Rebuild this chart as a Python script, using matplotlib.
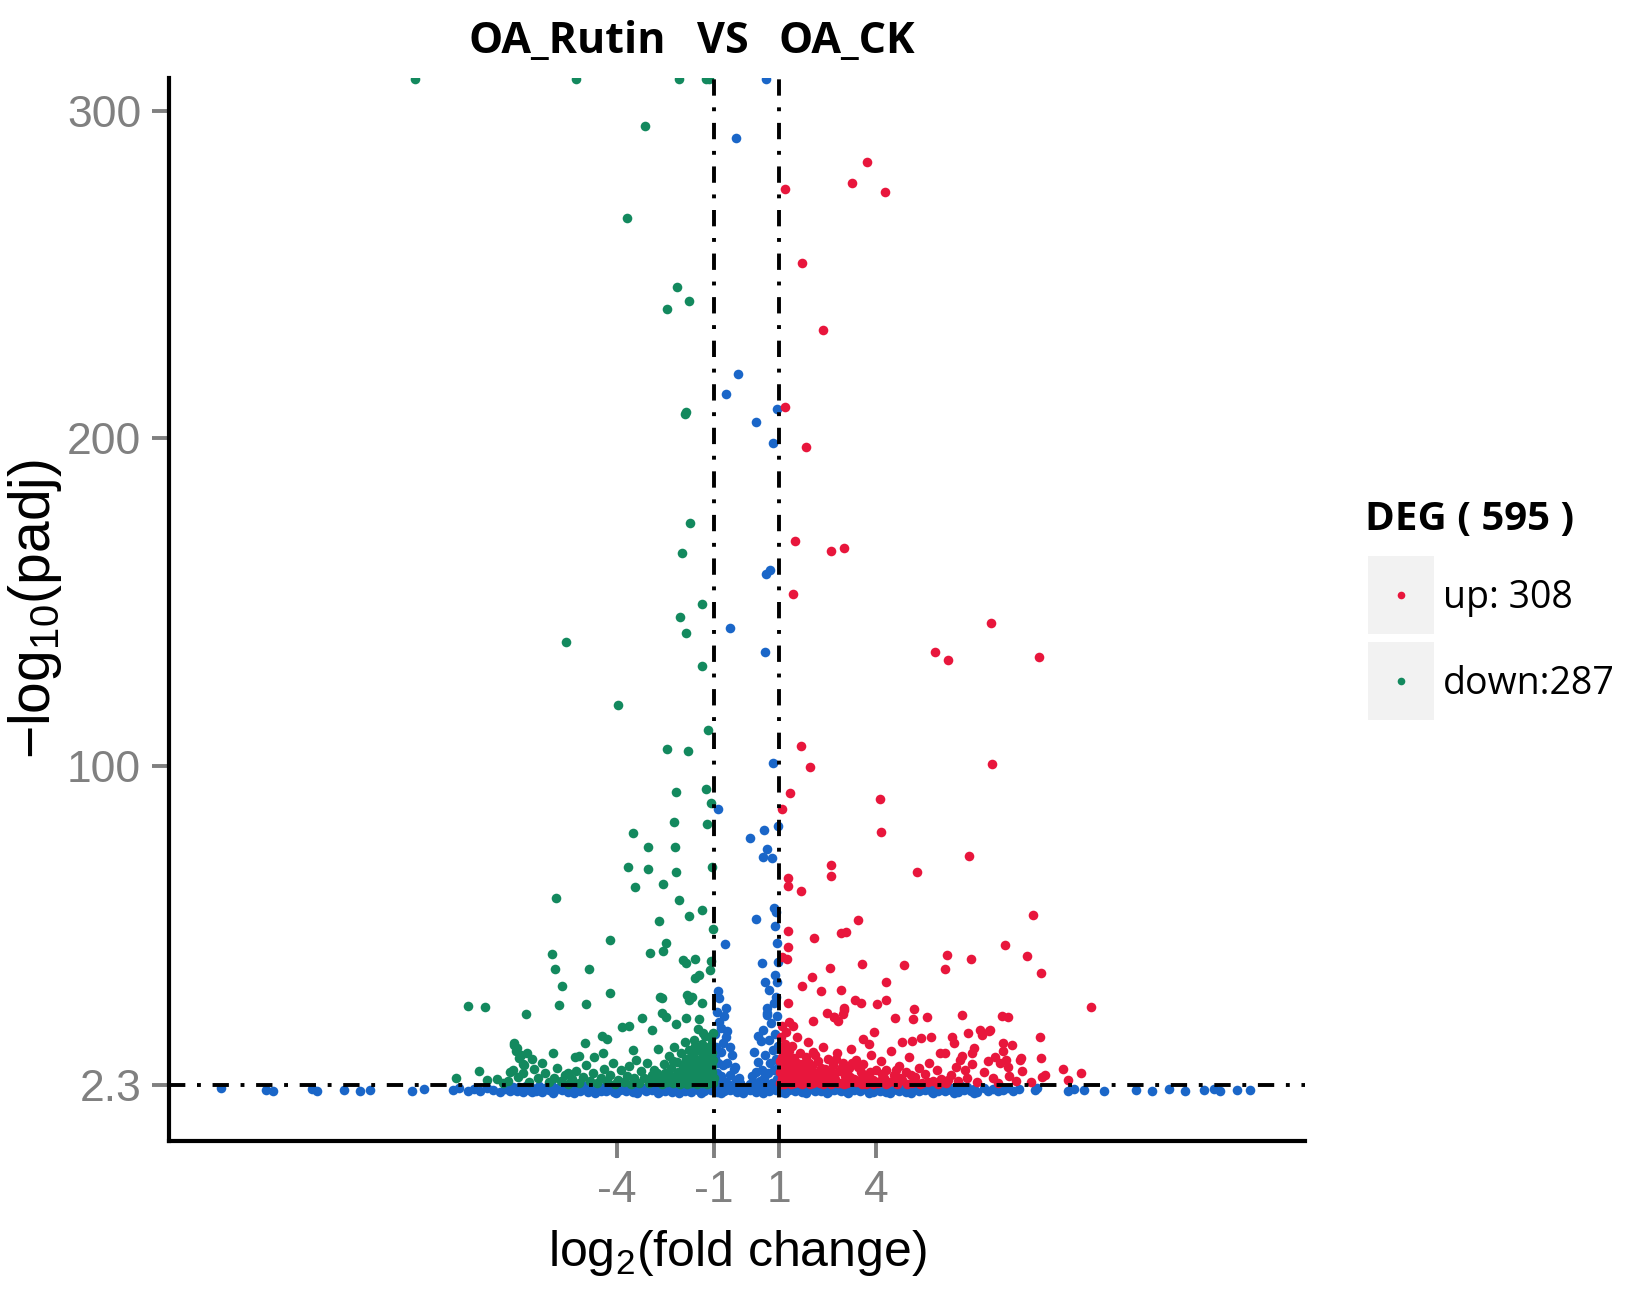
import matplotlib
matplotlib.use("Agg")
import matplotlib.pyplot as plt
from matplotlib.patches import Rectangle

plt.rcParams["font.family"] = ["Liberation Sans", "DejaVu Sans"]
plt.rcParams["mathtext.fontset"] = "custom"
plt.rcParams["mathtext.rm"] = "Liberation Sans"

# colours (ggplot volcano palette)
C_UP = "#e8163c"
C_DOWN = "#13895e"
C_NS = "#1a66c8"
C_TICK = "#808080"

# thresholds
FC_CUT = [-1, 1]
P_CUT = 2.3

# axis ticks
X_TICKS = [-4, -1, 1, 4]
Y_TICKS = [2.3, 100, 200, 300]
Y_TICKLABELS = ["2.3", "100", "200", "300"]

# legend counts
N_UP = 308
N_DOWN = 287

# ---- down-regulated genes (log2FC, -log10 padj) ----
down_pts = [
    (-10.22, 310), (-5.27, 310), (-2.07, 310), (-1.25, 310), (-1.15, 310),
    (-3.14, 295.4), (-3.70, 267.3), (-2.16, 246.3), (-1.76, 241.9), (-2.46, 239.5),
    (-1.91, 207.4), (-1.86, 208.0), (-1.74, 174.1), (-2.0, 164.9), (-1.36, 149.3),
    (-2.06, 145.5), (-5.58, 137.8), (-1.87, 140.4), (-1.39, 130.5), (-3.95, 118.4),
    (-1.2, 110.8), (-2.45, 105.1), (-1.81, 104.5),
    (-2.18, 91.9), (-1.24, 92.8), (-1.11, 88.5), (-2.25, 82.7), (-1.21, 82.1),
    (-3.51, 79.3), (-3.05, 75.1), (-2.22, 75.1), (-3.64, 68.9), (-3.05, 68.3),
    (-2.18, 67.4), (-1.08, 68.9), (-3.45, 62.8), (-2.58, 63.8), (-5.88, 59.4),
    (-2.09, 58.8), (-1.36, 55.7), (-1.76, 53.9), (-2.71, 52.6), (-1.05, 49.9),
    (-4.22, 46.8), (-2.49, 45.6), (-2.58, 43.4), (-2.98, 42.8), (-6.0, 42.5),
    (-1.95, 40.4), (-1.58, 40.7), (-1.11, 40.1), (-5.91, 37.7), (-4.87, 37.7),
    (-1.88, 39.5), (-1.48, 35.9), (-1.58, 34.9), (-1.14, 37.4), (-5.70, 32.5),
    (-4.22, 30.3), (-1.85, 29.8), (-1.67, 29.2), (-1.76, 28.3), (-1.39, 27.4),
    (-2.62, 28.9), (-8.59, 26.4), (-8.07, 26.1), (-5.79, 26.7), (-4.96, 27.0),
    (-6.80, 24.0), (-3.21, 22.8), (-2.47, 23.1), (-1.88, 22.8), (-1.48, 22.4),
    (-3.85, 20.0), (-3.61, 20.3), (-2.18, 20.9), (-4.47, 17.2), (-4.31, 16.3),
    (-4.99, 15.1), (-7.17, 15.1), (-7.09, 13.6), (-6.78, 12.0), (-5.98, 12.0),
    (-5.15, 11.1), (-4.44, 12.0), (-3.51, 12.9), (-8.96, 4.4), (-8.25, 6.6),
    (-8.0, 3.8), (-7.3, 6.3), (-6.9, 6.0), (-5.5, 6.0), (-5.3, 10.9),
    (-4.7, 10.9), (-2.68, 29.2), (-2.62, 24.3), (-2.9, 19.1), (-1.34, 18.2),
    (-7.17, 14.5), (-7.0, 10.6), (-6.88, 8.8),
    # dense low cloud near the cut-off
    (-1.03, 2.8), (-1.06, 6.2), (-1.04, 10.1), (-1.09, 14.5), (-1.05, 18.3),
    (-1.12, 4.1), (-1.08, 8.0), (-1.14, 12.2), (-1.1, 16.6), (-1.18, 3.3),
    (-1.16, 7.1), (-1.2, 11.0), (-1.22, 2.7), (-1.25, 5.4), (-1.24, 9.3),
    (-1.28, 13.8), (-1.3, 3.9), (-1.27, 17.2), (-1.33, 6.6), (-1.36, 2.9),
    (-1.35, 10.5), (-1.38, 15.0), (-1.4, 4.6), (-1.42, 8.4), (-1.45, 3.1),
    (-1.44, 12.6), (-1.47, 6.0), (-1.5, 19.4), (-1.52, 2.6), (-1.55, 4.9),
    (-1.54, 9.8), (-1.58, 14.1), (-1.6, 7.3), (-1.62, 3.5), (-1.65, 11.7),
    (-1.63, 16.0), (-1.68, 5.2), (-1.7, 2.8), (-1.73, 8.8), (-1.76, 13.0),
    (-1.78, 4.3), (-1.8, 6.9), (-1.83, 2.5), (-1.86, 10.2), (-1.88, 5.6),
    (-1.9, 15.5), (-1.93, 3.4), (-1.96, 7.8), (-2.0, 4.8), (-2.03, 12.0),
    (-2.06, 2.7), (-2.1, 6.3), (-2.13, 9.4), (-2.17, 3.8), (-2.2, 5.1),
    (-2.24, 14.0), (-2.28, 2.9), (-2.32, 7.5), (-2.36, 4.2), (-2.4, 11.2),
    (-2.45, 3.2), (-2.5, 6.0), (-2.55, 8.6), (-2.6, 2.6), (-2.66, 4.9),
    (-2.72, 13.2), (-2.78, 3.6), (-2.85, 7.0), (-2.92, 5.3), (-3.0, 2.8),
    (-3.08, 9.0), (-3.15, 4.4),
    (-1.02, 4.6), (-1.07, 12.0), (-1.13, 5.8), (-1.19, 9.0), (-1.26, 7.4),
    (-1.31, 11.4), (-1.37, 4.0), (-1.43, 6.8), (-1.49, 10.0), (-1.57, 3.6),
    (-1.66, 6.2), (-1.72, 10.6), (-1.81, 3.2), (-1.91, 8.6), (-2.02, 6.4),
    (-2.15, 4.3), (-2.27, 9.8), (-2.42, 5.6), (-2.58, 3.4), (-2.75, 5.9),
    (-3.25, 6.5), (-3.32, 3.0), (-3.4, 10.0), (-3.48, 4.6), (-3.55, 2.7),
    (-3.62, 8.2), (-3.7, 5.0), (-3.78, 3.2), (-3.86, 6.8), (-3.95, 4.0),
    (-4.05, 2.6), (-4.12, 8.9), (-4.2, 5.5), (-4.3, 3.4), (-4.4, 7.1),
    (-4.5, 4.4), (-4.6, 2.8), (-4.72, 6.0), (-4.82, 3.7), (-4.95, 8.3),
    (-5.05, 4.9), (-5.15, 3.0), (-5.25, 6.6), (-5.38, 4.2), (-5.5, 2.7),
    (-5.6, 5.4), (-5.72, 3.6), (-5.85, 7.6), (-5.95, 4.6), (-6.08, 3.1),
    (-6.2, 6.1), (-6.3, 9.0), (-6.42, 4.4), (-6.55, 7.2), (-6.62, 10.2),
    (-6.7, 3.3), (-6.85, 8.4), (-6.95, 11.5), (-7.05, 4.8), (-7.12, 12.8),
    (-7.2, 7.0), (-7.35, 3.5), (-7.5, 2.9), (-7.7, 4.2),
]

# ---- up-regulated genes ----
up_pts = [
    (1.19, 276.2), (3.71, 284.4), (3.25, 278.0), (4.27, 275.3), (1.71, 253.6),
    (2.36, 233.1), (1.19, 209.6), (1.84, 197.3), (1.49, 168.6), (2.61, 165.5),
    (3.0, 166.5), (1.42, 152.5), (7.54, 143.6), (5.81, 134.7), (6.19, 132.4),
    (9.01, 133.1), (1.68, 106.0), (1.94, 99.7), (7.57, 100.6), (1.34, 91.6),
    (1.10, 86.7), (4.11, 89.7), (4.15, 79.6), (6.86, 72.3), (2.60, 69.5),
    (2.60, 66.2), (5.25, 67.4), (1.29, 65.5), (1.26, 63.1), (1.69, 61.5),
    (3.44, 52.9), (8.83, 54.3), (7.96, 45.1), (1.29, 49.4), (2.09, 47.2),
    (2.92, 48.7), (3.07, 49.1), (6.18, 42.0), (6.92, 40.8), (8.64, 41.7),
    (9.07, 36.5), (2.57, 38.0), (3.56, 39.3), (4.85, 38.9), (6.12, 37.7),
    (2.03, 35.3), (1.72, 32.5), (2.30, 31.0), (2.92, 31.3), (4.30, 33.7),
    (3.35, 28.3), (3.53, 27.4), (4.02, 27.0), (4.30, 28.3), (3.00, 25.8),
    (2.97, 24.0), (2.48, 24.3), (2.69, 23.1), (1.29, 27.4), (5.16, 25.5),
    (5.13, 22.4), (4.58, 22.8), (5.56, 23.1), (6.64, 23.7), (7.87, 23.4),
    (8.06, 23.1), (10.61, 26.1), (9.04, 16.9), (9.07, 10.5), (8.45, 10.5),
    (7.50, 19.1), (6.83, 18.1), (6.34, 16.9), (6.40, 15.1), (7.90, 15.1),
    (8.18, 14.5), (5.97, 12.0), (5.68, 16.9), (1.08, 41.4), (1.23, 40.8),
    (1.26, 44.5), (2.05, 21.8), (1.3, 21.5), (1.43, 20.3), (3.94, 18.4),
    (3.6, 16.3), (3.77, 15.0), (4.8, 15.4), (5.1, 15.7), (5.37, 16.6),
    (7.2, 19.1), (7.26, 17.6), (7.47, 18.8), (7.0, 13.6), (6.95, 12.0),
    (8.42, 9.9), (9.75, 7.2), (10.3, 6.0), (9.1, 4.8), (7.65, 11.0),
    (7.8, 9.1), (8.0, 10.0), (8.05, 7.9), (6.1, 12.0), (6.57, 9.9),
    (6.45, 7.9), (6.74, 6.8), (2.82, 21.8), (3.0, 25.2), (2.7, 23.1),
    # dense low cloud
    (1.02, 3.0), (1.04, 6.4), (1.03, 9.8), (1.06, 13.2), (1.05, 16.9),
    (1.08, 20.5), (1.1, 4.5), (1.12, 8.1), (1.14, 11.5), (1.16, 2.7),
    (1.18, 15.0), (1.2, 6.0), (1.22, 18.4), (1.25, 3.6), (1.27, 9.4),
    (1.3, 12.8), (1.33, 5.2), (1.36, 2.6), (1.38, 7.7), (1.4, 14.2),
    (1.43, 4.0), (1.46, 10.6), (1.5, 3.1), (1.53, 6.8), (1.56, 17.0),
    (1.6, 4.8), (1.63, 12.0), (1.66, 2.8), (1.7, 8.6), (1.74, 5.6),
    (1.78, 3.4), (1.82, 10.9), (1.86, 6.3), (1.9, 15.6), (1.94, 2.7),
    (1.98, 4.6), (2.02, 8.0), (2.06, 12.5), (2.1, 3.5), (2.15, 6.1),
    (2.2, 9.7), (2.25, 2.9), (2.3, 4.9), (2.35, 14.0), (2.4, 7.2),
    (2.45, 3.3), (2.5, 10.4), (2.55, 5.3), (2.6, 2.6), (2.66, 8.4),
    (2.72, 4.1), (2.78, 12.0), (2.84, 6.5), (2.9, 3.0), (2.96, 9.2),
    (3.02, 5.0), (3.1, 2.8), (3.16, 7.4), (3.22, 13.3), (3.3, 4.2),
    (3.38, 10.0), (3.45, 3.1), (3.52, 6.2), (3.6, 8.8), (3.68, 2.7),
    (3.75, 5.1), (3.82, 11.6), (3.9, 3.8), (3.98, 7.0), (4.06, 2.9),
    (4.14, 9.6), (4.22, 4.6), (4.3, 6.8), (4.38, 3.2), (4.46, 12.6),
    (4.55, 5.4), (4.62, 2.7), (4.7, 8.1), (4.8, 3.9), (4.9, 6.3),
    (5.0, 10.8), (5.1, 3.0), (5.2, 4.9), (5.3, 7.6), (5.4, 2.8),
    (5.5, 5.6), (5.62, 9.0), (5.75, 3.6), (5.88, 6.9), (6.0, 4.2),
    (6.15, 2.9), (6.3, 5.4), (6.5, 3.4), (6.65, 11.3), (6.8, 4.6),
    (6.95, 8.6), (7.1, 3.2), (7.3, 6.4), (7.45, 9.8), (7.6, 4.4),
    (7.75, 3.0), (7.9, 12.7), (8.1, 5.2), (8.3, 3.6), (8.5, 6.6),
    (8.75, 3.2), (9.2, 5.4), (9.9, 3.9),
    (1.07, 2.6), (1.15, 4.0), (1.24, 5.0), (1.32, 3.1), (1.45, 2.9),
    (1.58, 3.9), (1.72, 2.6), (1.88, 4.2), (2.04, 3.0), (2.18, 5.2),
    (2.34, 2.7), (2.52, 3.9), (2.68, 5.8), (2.82, 3.0), (3.0, 2.6),
    (3.2, 4.7), (3.36, 3.2), (3.56, 2.5), (3.72, 4.0), (3.9, 2.6),
    (4.1, 3.7), (4.28, 2.5), (4.5, 3.6), (4.72, 4.6), (4.95, 2.6),
    (5.15, 3.8), (5.35, 2.5), (5.6, 3.3), (5.9, 2.6), (6.2, 4.0),
    (1.12, 6.9), (1.3, 8.5), (1.55, 9.0), (1.8, 7.0), (2.0, 5.6),
    (2.28, 7.4), (2.6, 6.4), (2.95, 7.8), (3.25, 9.0), (3.55, 4.6),
    (1.09, 11.0), (1.2, 13.6), (1.35, 10.4), (1.48, 5.8), (1.68, 7.2),
    (1.92, 9.0), (2.12, 11.4), (2.42, 5.9), (2.74, 10.2), (3.08, 6.0),
    (3.42, 7.8), (3.8, 6.4), (4.18, 5.6), (4.6, 7.0), (5.05, 5.4),
]

# ---- not significant ----
ns_pts = [
    (0.61, 310), (-0.34, 291.8), (-0.28, 219.6), (-0.62, 213.5), (0.95, 209.0),
    (0.30, 205.0), (0.80, 198.6), (0.59, 158.5), (0.72, 159.8), (-0.5, 142.0),
    (0.56, 134.7), (0.82, 100.8), (-0.87, 86.7), (0.55, 80.3), (0.09, 77.9),
    (0.64, 74.5), (0.49, 72.1), (0.77, 71.7), (0.98, 81.5), (0.30, 53.0),
    (0.92, 55.2), (0.89, 50.9), (-0.68, 45.4), (0.95, 45.7), (0.46, 39.6),
    (0.58, 33.7), (0.95, 33.7), (-0.87, 31.0), (-0.84, 28.9), (0.92, 29.2),
    (0.64, 23.6), (-0.78, 19.7), (-0.59, 18.7), (0.85, 56.4),
    # column between the fold-change cut-offs
    (-0.97, 3.0), (-0.92, 6.0), (-0.88, 9.2), (-0.8, 12.4), (-0.72, 15.2),
    (-0.64, 17.0), (-0.94, 14.0), (-0.85, 21.5), (-0.6, 9.0), (-0.52, 5.4),
    (-0.45, 11.6), (-0.4, 7.2), (-0.33, 3.8), (-0.96, 17.9), (-0.7, 23.5),
    (-0.62, 25.8), (-0.9, 24.5), (-0.78, 5.0), (-0.66, 3.2), (-0.5, 14.0),
    (-0.35, 7.9), (-0.25, 4.4), (-0.2, 2.9), (-0.86, 2.8), (-0.56, 2.6),
    (-0.74, 8.4), (-0.98, 10.5),
    (0.22, 3.0), (0.24, 12.4), (0.3, 6.2), (0.36, 9.4), (0.4, 3.6),
    (0.44, 15.8), (0.48, 7.0), (0.52, 19.0), (0.55, 4.4), (0.58, 11.4),
    (0.62, 26.0), (0.63, 24.3), (0.66, 6.0), (0.7, 16.2), (0.72, 9.0),
    (0.75, 21.4), (0.78, 3.0), (0.8, 13.0), (0.83, 27.5), (0.85, 6.8),
    (0.88, 18.0), (0.9, 10.2), (0.93, 23.5), (0.95, 4.2), (0.97, 14.4),
    (0.99, 8.0), (0.6, 2.6), (0.7, 31.5), (0.86, 36.0), (0.98, 40.0),
    (0.34, 17.2), (0.16, 5.0), (0.1, 2.7),
    # band below the padj cut-off
    (-7.08, 0.6), (-6.9, 0.3), (-6.71, 0.9), (-6.5, 0.5), (-6.32, 0.2),
    (-6.1, 0.8), (-5.92, 0.4), (-5.7, 0.7), (-5.51, 0.3), (-5.3, 0.9),
    (-5.12, 0.5), (-4.9, 0.2), (-4.71, 0.8), (-4.5, 0.4), (-4.32, 0.6),
    (-4.1, 0.3), (-3.9, 0.9), (-3.71, 0.5), (-3.5, 0.2), (-3.31, 0.7),
    (-3.1, 0.4), (-2.92, 0.8), (-2.7, 0.3), (-2.5, 0.6), (-2.31, 0.2),
    (-2.1, 0.9), (-1.91, 0.5), (-1.7, 0.3), (-1.5, 0.8), (-1.32, 0.4),
    (-1.1, 0.7), (-0.92, 0.2), (-0.7, 0.6), (-0.5, 0.9), (-0.3, 0.3),
    (-0.1, 0.5), (0.1, 0.8), (0.3, 0.2), (0.5, 0.6), (0.7, 0.4),
    (0.9, 0.9), (1.1, 0.3), (1.3, 0.7), (1.5, 0.5), (1.7, 0.2),
    (1.9, 0.8), (2.1, 0.4), (2.3, 0.6), (2.5, 0.3), (2.7, 0.9),
    (2.9, 0.5), (3.1, 0.2), (3.3, 0.7), (3.5, 0.4), (3.7, 0.8),
    (3.9, 0.3), (4.1, 0.6), (4.3, 0.2), (4.5, 0.9), (4.7, 0.5),
    (4.9, 0.3), (5.1, 0.7), (5.3, 0.4), (5.5, 0.8), (5.7, 0.2),
    (5.9, 0.6), (6.1, 0.4), (6.3, 0.9), (6.5, 0.3), (6.7, 0.7),
    (6.9, 0.5), (7.1, 0.2),
    (-7.0, 1.6), (-6.8, 2.0), (-6.6, 1.4), (-6.41, 1.9), (-6.2, 1.5),
    (-6.0, 2.1), (-5.8, 1.3), (-5.6, 1.8), (-5.4, 2.2), (-5.2, 1.5),
    (-5.0, 1.9), (-4.8, 1.4), (-4.6, 2.0), (-4.4, 1.6), (-4.2, 2.2),
    (-4.0, 1.3), (-3.8, 1.8), (-3.6, 1.5), (-3.4, 2.1), (-3.2, 1.4),
    (-3.0, 1.9), (-2.8, 1.6), (-2.6, 2.2), (-2.4, 1.3), (-2.2, 1.7),
    (-2.0, 2.0), (-1.8, 1.5), (-1.6, 2.1), (-1.4, 1.4), (-1.2, 1.9),
    (-1.0, 1.6), (-0.8, 2.2), (-0.6, 1.3), (-0.4, 1.8), (-0.2, 1.5),
    (0.0, 1.1), (0.2, 1.9), (0.4, 1.4), (0.6, 2.1), (0.8, 1.6),
    (1.0, 1.9), (1.2, 1.4), (1.4, 2.2), (1.6, 1.6), (1.8, 2.0),
    (2.0, 1.3), (2.2, 1.8), (2.4, 2.1), (2.6, 1.5), (2.8, 1.9),
    (3.0, 1.4), (3.2, 2.2), (3.4, 1.6), (3.6, 2.0), (3.8, 1.3),
    (4.0, 1.8), (4.2, 1.5), (4.4, 2.1), (4.6, 1.4), (4.8, 1.9),
    (5.0, 1.6), (5.2, 2.2), (5.4, 1.3), (5.6, 1.8), (5.8, 2.0),
    (6.0, 1.5), (6.2, 1.9), (6.4, 1.4), (6.6, 2.1), (6.8, 1.6),
    (7.0, 1.2),
    (-6.95, 1.0), (-6.62, 0.1), (-6.3, 1.1), (-5.98, -0.1), (-5.65, 1.0),
    (-5.33, 0.0), (-5.0, 1.1), (-4.68, -0.1), (-4.35, 1.0), (-4.02, 0.0),
    (-3.7, 1.1), (-3.37, -0.1), (-3.05, 1.0), (-2.72, 0.0), (-2.4, 1.1),
    (-2.07, -0.1), (-1.75, 1.0), (-1.42, 0.0), (-1.1, 1.1), (-0.78, -0.1),
    (-0.45, 1.0), (-0.12, 0.0), (0.2, 1.1), (0.52, -0.1), (0.85, 1.0),
    (1.18, 0.0), (1.5, 1.1), (1.83, -0.1), (2.15, 1.0), (2.48, 0.0),
    (2.8, 1.1), (3.13, -0.1), (3.45, 1.0), (3.78, 0.0), (4.1, 1.1),
    (4.43, -0.1), (4.75, 1.0), (5.08, 0.0), (5.4, 1.1), (5.73, -0.1),
    (6.05, 1.0), (6.38, 0.0), (6.7, 1.1), (7.02, -0.1),
    (-9.05, 0.7), (-8.85, 1.3), (-8.6, 0.5), (-8.4, 1.0), (-8.2, 0.4),
    (-8.0, 1.4), (-7.8, 0.8), (-7.6, 0.3), (-7.45, 1.2), (-7.3, 0.6),
    (-7.2, 1.8), (7.3, 1.5), (7.45, 0.6), (7.6, 1.1), (7.75, 0.4),
    (7.9, 0.9), (8.05, 1.4), (8.2, 0.6), (8.4, 1.0), (8.9, 0.8),
    (8.95, 1.4),
    (-16.2, 1.3), (-14.8, 0.9), (-14.6, 0.4), (-13.4, 1.1), (-13.25, 0.6),
    (-12.4, 0.9), (-11.9, 0.6), (-11.6, 0.7), (-10.3, 0.5), (-9.95, 1.0),
    (9.9, 0.6), (10.1, 1.2), (10.4, 0.8), (11.0, 0.5), (12.0, 0.9),
    (12.5, 0.6), (13.0, 1.0), (13.5, 0.5), (14.1, 0.8), (14.4, 1.1),
    (14.6, 0.6), (15.1, 0.9), (15.5, 0.7),
]

fig = plt.figure(figsize=(16.29, 13.0), dpi=100)
ax = fig.add_axes([0.1037, 0.1223, 0.6973, 0.8177])

MS = 48
for pts, col in ((ns_pts, C_NS), (down_pts, C_DOWN), (up_pts, C_UP)):
    xs, ys = zip(*pts)
    ax.scatter(xs, ys, s=MS, c=col, linewidths=0, zorder=2)

dash = (0, (4.2, 3.0, 1.0, 3.0))
for v in FC_CUT:
    ax.axvline(v, color="black", lw=2.8, ls=dash, zorder=3)
ax.axhline(P_CUT, color="black", lw=2.8, ls=dash, zorder=3)

ax.set_xlim(-17.8, 17.2)
ax.set_ylim(-14.8, 310.2)
ax.set_xticks(X_TICKS)
ax.set_xticklabels([str(t) for t in X_TICKS])
ax.set_yticks(Y_TICKS)
ax.set_yticklabels(Y_TICKLABELS)
ax.spines[["top", "right"]].set_visible(False)
for s in ("left", "bottom"):
    ax.spines[s].set_linewidth(3.0)
    ax.spines[s].set_color("black")
ax.tick_params(axis="both", colors=C_TICK, labelsize=32, length=12, width=2.8)
ax.tick_params(axis="y", pad=8)
ax.tick_params(axis="x", pad=9)

ax.set_xlabel(r"$\mathregular{log_2}$(fold change)", fontsize=36, va="center")
ax.xaxis.set_label_coords(0.5, -0.1055)
ax.set_ylabel(r"$\mathregular{-log_{10}}$(padj)", fontsize=41, va="center")
ax.yaxis.set_label_coords(-0.118, 0.5)

# title: group names
for txt, xf in (("OA_Rutin", 0.348), ("VS", 0.444), ("OA_CK", 0.520)):
    fig.text(xf, 0.968, txt, ha="center", va="center", fontsize=31,
             fontweight="bold", family=["Open Sans", "DejaVu Sans"])

# legend drawn by hand (ggplot style keys)
fig.text(0.838, 0.600, "DEG ( %d )" % (N_UP + N_DOWN), ha="left", va="center",
         fontsize=29, fontweight="bold", family=["Open Sans", "DejaVu Sans"])
for yb, col, lab in ((0.512, C_UP, "up: %d" % N_UP), (0.446, C_DOWN, "down:%d" % N_DOWN)):
    fig.add_artist(Rectangle((0.840, yb), 0.040, 0.060, transform=fig.transFigure,
                             facecolor="#f2f2f2", edgecolor="none"))
    fig.add_artist(plt.Line2D([0.860], [yb + 0.030], transform=fig.transFigure,
                              marker="o", ms=5.5, color=col, mec="none", ls="none"))
    fig.text(0.886, yb + 0.028, lab, ha="left", va="center", fontsize=27,
             family=["Open Sans", "DejaVu Sans"])

fig.savefig("out.png", dpi=100, facecolor="white")
